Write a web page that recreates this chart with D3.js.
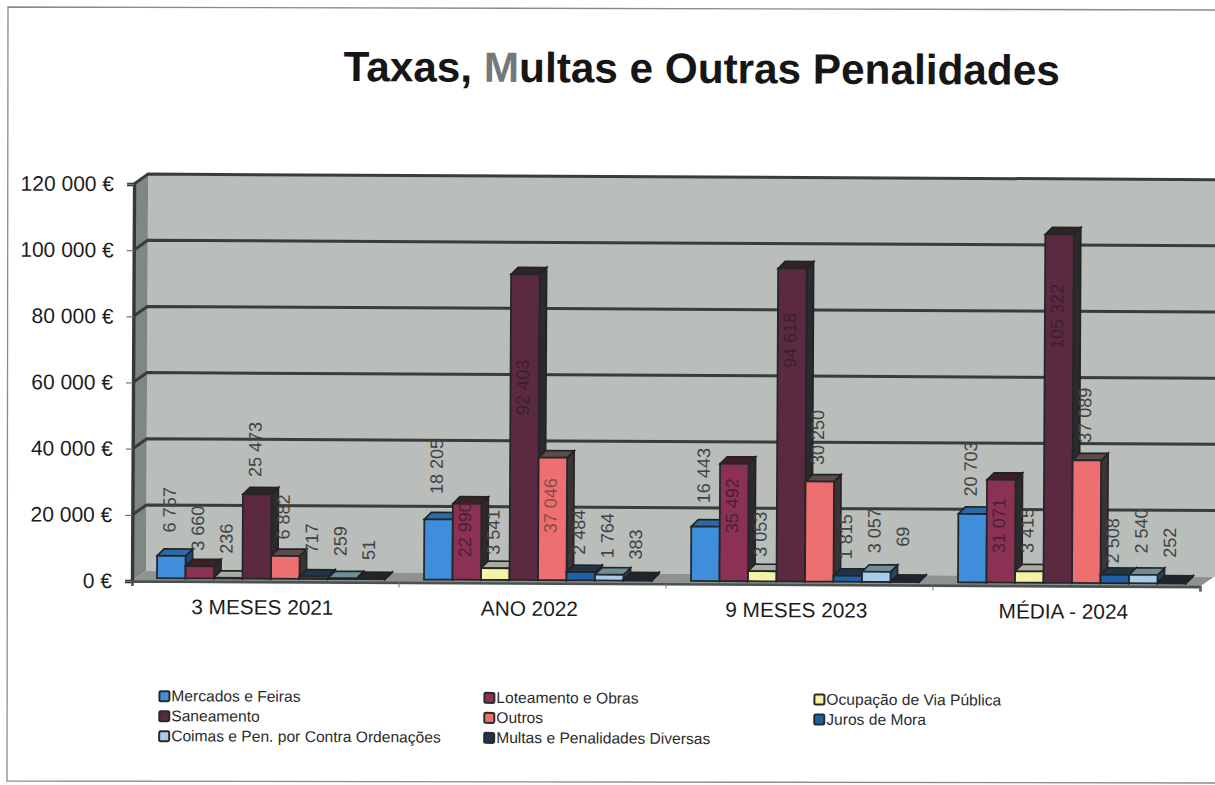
<!DOCTYPE html>
<html>
<head>
<meta charset="utf-8">
<script src="https://cdn.jsdelivr.net/npm/d3@7"></script>
<style>
html,body{margin:0;padding:0;background:#fff}
svg{display:block}
text{font-family:"Liberation Sans",Arial,sans-serif}
</style>
</head>
<body>
<svg id="chart" width="1215" height="785"></svg>
<script>
// Annual revenue from fees, fines and other penalties, by type.
const periods = ["3 MESES 2021", "ANO 2022", "9 MESES 2023", "MÉDIA - 2024"];
const seriesNames = ["Mercados e Feiras", "Loteamento e Obras", "Ocupação de Via Pública", "Saneamento",
  "Outros", "Juros de Mora", "Coimas e Pen. por Contra Ordenações", "Multas e Penalidades Diversas"];
const mercados = [6757, 18205, 16443, 20703];
const loteamento = [3660, 22990, 35492, 31071];
const ocupacao = [236, 3541, 3053, 3415];
const saneamento = [25473, 92403, 94618, 105322];
const outros = [6882, 37046, 30250, 37089];
const juros = [717, 2484, 1815, 2508];
const coimas = [259, 1764, 3057, 2540];
const multas = [51, 383, 69, 252];
const seriesValues = [mercados, loteamento, ocupacao, saneamento, outros, juros, coimas, multas];
const yTicks = [0, 20000, 40000, 60000, 80000, 100000, 120000];

// Face colours per series: front, top, side.
const faces = [
  ["#3f8edb", "#2b6aa8", "#1c4a80"],
  ["#8b3153", "#3c2026", "#2d2a2c"],
  ["#f4f2a4", "#a9aca0", "#55585a"],
  ["#5c2a40", "#2f2528", "#2b2a2c"],
  ["#ee6f70", "#5d4a4a", "#3a3436"],
  ["#1d62a6", "#20344a", "#1a2c44"],
  ["#a8cbea", "#6f8f96", "#20466e"],
  ["#24334c", "#20242c", "#1c2230"]
];
// Distance in pixels from a bar's front top edge to the centre of its label; negative sits inside the bar.
const labelGaps = [
  [46, 53, 51, 45],
  [38, -26, -42, -46],
  [39, 36, 37, 41],
  [45, -113, -72, -82],
  [39, -48, 44, 45],
  [38, 40, 39, 34],
  [37, 39, 41, 44],
  [29, 35, 45, 40]
];
// Labels sitting inside a bar take a tint of that bar; the rest stay grey.
const insideInk = ["#383838", "#4a2238", "#4a4a4a", "#3a2030", "#8a4a48", "#3a3a3a", "#484848", "#484848"];
const outsideInk = "#424242";

const svg = d3.select("#chart");
const W = 1215;

// Scanned page frame.
svg.append("path").attr("d", "M1215,10L8,7L7,781L1215,783")
  .attr("fill", "none").attr("stroke", "#8a8a8a").attr("stroke-width", 1.3);

const root = svg.append("g").attr("transform", "rotate(0.3 132 581)");

const y = d3.scaleLinear().domain([0, 120000]).range([581, 184]);
const x0 = d3.scaleBand().domain(periods).range([132, 1200]);
const barW = 28.5;
const x1 = d3.scaleBand().domain(seriesNames).range([25, 25 + barW * 8]);
const depth = {x: 14, y: -10};
const barDepth = {x: 7, y: -7};
const baseLift = 3;

// Back wall, side wall and floor of the 3D plot box.
const wallRight = W + 20;
root.append("path")
  .attr("d", `M${132 + depth.x},${y(120000) + depth.y}H${wallRight}V${y(0) + depth.y}H${132 + depth.x}Z`)
  .attr("fill", "#b9bebb");
root.append("path")
  .attr("d", `M132,${y(0)}V${y(120000)}L${132 + depth.x},${y(120000) + depth.y}V${y(0) + depth.y}Z`)
  .attr("fill", "#7f8784");
root.append("path")
  .attr("d", `M132,${y(0)}H1200L${1200 + depth.x},${y(0) + depth.y}H${132 + depth.x}Z`)
  .attr("fill", "#8e9391");

// Gridlines run along the wall and step forward down the side wall.
root.append("g").selectAll("path").data(yTicks.filter(d => d > 0)).join("path")
  .attr("d", d => `M132,${y(d)}L${132 + depth.x},${y(d) + depth.y}H${wallRight}`)
  .attr("fill", "none").attr("stroke", "#383d3c").attr("stroke-width", 3);

// Value axis with euro labels.
const euro = d => d3.format(",")(d).replace(/,/g, " ") + " €";
const yAxis = root.append("g").attr("transform", "translate(132,0)")
  .call(d3.axisLeft(y).tickValues(yTicks).tickFormat(euro).tickSize(7).tickPadding(13));
yAxis.select(".domain").attr("stroke", "#33383a").attr("stroke-width", 3.4);
yAxis.selectAll(".tick line").attr("stroke", "#777").attr("stroke-width", 1.2);
yAxis.selectAll("text").attr("font-size", 21).attr("fill", "#1c1c1c");

// Category axis along the front floor edge.
const xAxis = root.append("g").attr("transform", `translate(0,${y(0)})`)
  .call(d3.axisBottom(x0).tickSize(5).tickPadding(13));
xAxis.select(".domain").attr("stroke", "#4c5150").attr("stroke-width", 2.6);
xAxis.selectAll(".tick line").attr("x1", x0.bandwidth() / 2).attr("x2", x0.bandwidth() / 2).attr("stroke", "#777");
xAxis.selectAll("text").attr("font-size", 20.8).attr("fill", "#1c1c1c").attr("dx", -3);

// Bars: side and top faces behind the front face, drawn left to right.
const bars = [];
periods.forEach((p, gi) => seriesNames.forEach((s, si) => {
  bars.push({p, si, gi, v: seriesValues[si][gi]});
}));
const barG = root.append("g").selectAll("g").data(bars).join("g");
const left = d => x0(d.p) + x1(seriesNames[d.si]);
const barTop = d => y(d.v) - baseLift;
const barBase = y(0) - baseLift;
barG.append("path")
  .attr("d", d => `M${left(d) + barW},${barBase}V${barTop(d)}l${barDepth.x},${barDepth.y}V${barBase + barDepth.y}Z`)
  .attr("fill", d => faces[d.si][2]).attr("stroke", "#222").attr("stroke-width", 1.6);
barG.append("path")
  .attr("d", d => `M${left(d)},${barTop(d)}h${barW}l${barDepth.x},${barDepth.y}h${-barW}Z`)
  .attr("fill", d => faces[d.si][1]).attr("stroke", "#222").attr("stroke-width", 1.6);
barG.append("rect")
  .attr("x", left).attr("y", barTop).attr("width", barW).attr("height", d => barBase - barTop(d))
  .attr("fill", d => faces[d.si][0]).attr("stroke", "#23272b").attr("stroke-width", 1.8);

// Value labels, rotated to read upwards.
root.append("g").selectAll("text").data(bars).join("text")
  .attr("transform", d => `translate(${left(d) + barW / 2 - 2},${barTop(d) - labelGaps[d.si][d.gi]}) rotate(-90)`)
  .attr("text-anchor", "middle").attr("dominant-baseline", "central")
  .attr("font-size", 18)
  .attr("fill", d => labelGaps[d.si][d.gi] < 0 ? insideInk[d.si] : outsideInk)
  .text(d => d3.format(",")(d.v).replace(/,/g, " "));

// Title with its greyed initial.
const title = root.append("text").attr("x", 699).attr("y", 80).attr("text-anchor", "middle")
  .attr("font-size", 42.3).attr("font-weight", "bold").attr("fill", "#161616");
title.append("tspan").text("Taxas, ");
title.append("tspan").attr("fill", "#74787c").text("M");
title.append("tspan").text("ultas e Outras Penalidades");

// Legend laid out in three columns.
const legendCols = [160, 485, 815];
const legendRows = [696, 716, 736];
const legend = root.append("g").selectAll("g").data(seriesNames).join("g")
  .attr("transform", (d, i) => `translate(${legendCols[i % 3]},${legendRows[Math.floor(i / 3)]})`);
legend.append("rect").attr("x", 0).attr("y", -5).attr("width", 10).attr("height", 10).attr("rx", 1.5)
  .attr("fill", (d, i) => faces[i][0]).attr("stroke", "#2a2a2a").attr("stroke-width", 2);
legend.append("text").attr("x", 12).attr("y", 5).attr("font-size", 15.6).attr("fill", "#2c2c2c").text(d => d);
</script>
</body>
</html>
